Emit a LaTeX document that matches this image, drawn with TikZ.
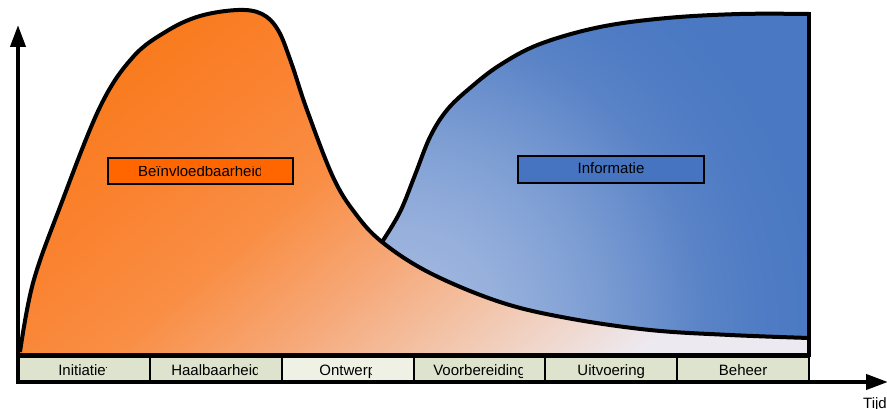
\documentclass[tikz,border=0pt]{standalone}
\usepackage{fontspec}
\setmainfont{Liberation Sans}
\usetikzlibrary{arrows.meta}

\definecolor{orangeA}{HTML}{F97B1E}
\definecolor{orangeB}{HTML}{FA8230}
\definecolor{orangeC}{HTML}{F98E44}
\definecolor{orangeD}{HTML}{F6A878}
\definecolor{orangeE}{HTML}{F2C8B0}
\definecolor{orangeF}{HTML}{EDE9F0}
\definecolor{blueR0}{HTML}{A6BCE1}
\definecolor{blueR1}{HTML}{97B0DC}
\definecolor{blueR2}{HTML}{8DA9D9}
\definecolor{blueR3}{HTML}{7C9DD3}
\definecolor{blueR4}{HTML}{5B84C7}
\definecolor{blueR5}{HTML}{4F7CC4}
\definecolor{blueR6}{HTML}{4A78C2}
\definecolor{phase}{HTML}{DDE3CC}
\definecolor{phaseHi}{HTML}{EEF1E4}
\definecolor{tagOrange}{HTML}{FF6600}
\definecolor{tagBlue}{HTML}{4674C1}

% fade, pale end at 0bp, strong end at 100bp
\pgfdeclareverticalshading{orangefade}{100bp}{color(0bp)=(orangeF); color(25bp)=(orangeF);
  color(36bp)=(orangeE); color(46bp)=(orangeD); color(56bp)=(orangeC);
  color(66bp)=(orangeB); color(75bp)=(orangeA); color(100bp)=(orangeA)}
% glow spreading from the lower left of the information area (25bp = outer radius)
\pgfdeclareradialshading{inforad}{\pgfpoint{0bp}{0bp}}{color(0bp)=(blueR0);
  color(6bp)=(blueR1); color(8.3bp)=(blueR2); color(11.9bp)=(blueR3);
  color(17.9bp)=(blueR4); color(21.4bp)=(blueR5); color(25bp)=(blueR6);
  color(50bp)=(blueR6)}

\newcommand{\lblfont}{\fontsize{15}{18}\selectfont}
% invisible box that is narrower than its text by #1
\newcommand{\trimmed}[2]{\makebox[\dimexpr\width-#1\relax][l]{\phantom{#2}}}

% outline of the information area
\newcommand{\infoarea}{plot[smooth, tension=0.6] coordinates {(382,242) (400,212) (415,175)
    (430,137) (447,110) (470,88) (500,65) (540,44) (600,27) (667,18) (740,14) (809,14)}
  -- (809,338)
  -- plot[smooth, tension=0.6] coordinates {(809,338) (730,335) (650,330) (567,318)
    (500,302) (430,273) (382,242)} -- cycle}

\begin{document}
\begin{tikzpicture}[x=1pt,y=-1pt,
  curve/.style={line width=4pt, line join=round},
  frame/.style={line width=4pt},
  phasebox/.style={draw, line width=2pt, fill=phase, minimum width=131.8pt,
    minimum height=25pt, inner sep=0pt, outer sep=0pt},
  tag/.style={draw, line width=1.5pt, inner sep=0pt, outer sep=0pt},
  lbl/.style={inner sep=0pt, font=\lblfont, anchor=base},
  cut/.style={lbl, path picture={\node[anchor=west, inner sep=0pt, font=\lblfont]
    at (path picture bounding box.west) {#1};}},
  axis/.style={line width=4pt, -{Triangle[length=22pt,width=15pt]}}
]
\useasboundingbox (0,0) rectangle (887,409);

% influence curve (orange area)
\shade[shading=orangefade, shading angle=40]
  (20,355) -- plot[smooth, tension=0.6] coordinates {(20,352) (33,283) (60,207) (100,107)
    (133,57) (167,31) (200,16) (238,10) (262,14) (278,30) (291,62) (307,110) (333,177)
    (355,213) (382,242) (430,273) (500,302) (567,318) (650,330) (730,335) (809,338)}
  -- (809,355) -- cycle;

% information curve (blue area)
\fill[blueR6] \infoarea;
\begin{scope}
  \clip \infoarea;
  \shade[shading=inforad] (400,330) circle[radius=420pt];
\end{scope}

% outlines
\draw[curve] plot[smooth, tension=0.6] coordinates {(20,352) (33,283) (60,207) (100,107)
    (133,57) (167,31) (200,16) (238,10) (262,14) (278,30) (291,62) (307,110) (333,177)
    (355,213) (382,242) (430,273) (500,302) (567,318) (650,330) (730,335) (809,338)};
\draw[curve] plot[smooth, tension=0.6] coordinates {(382,242) (400,212) (415,175) (430,137)
    (447,110) (470,88) (500,65) (540,44) (600,27) (667,18) (740,14) (809,14)};
\coordinate (frTop) at (809,12);
\coordinate (frCorner) at (809,354.5);
\coordinate (frLeft) at (16,354.5);
\draw[frame] (frTop) -- (frCorner) -- (frLeft);

% phase strip
\node[phasebox] (p1) at (83.9,369.5) {};
\node[phasebox] (p2) at (215.7,369.5) {};
\node[phasebox, fill=phaseHi] (p3) at (347.6,369.5) {};
\node[phasebox] (p4) at (479.4,369.5) {};
\node[phasebox] (p5) at (611.2,369.5) {};
\node[phasebox] (p6) at (743.1,369.5) {};

\node[cut={Initiatief}, xshift=-1.5pt] (t1) at (83.9,375) {\trimmed{3pt}{Initiatief}};
\node[cut={Haalbaarheid}, xshift=-1.5pt] (t2) at (215.7,375) {\trimmed{3pt}{Haalbaarheid}};
\node[cut={Ontwerp}, xshift=-2pt] (t3) at (347.6,375) {\trimmed{4pt}{Ontwerp}};
\node[cut={Voorbereiding}, xshift=-1.5pt] (t4) at (479.4,375) {\trimmed{3pt}{Voorbereiding}};
\node[lbl] (t5) at (611.2,375) {Uitvoering};
\node[lbl] (t6) at (743.1,375) {Beheer};

% axes
\coordinate (origin) at (18,384);
\coordinate (yEnd) at (18,25);
\coordinate (xStart) at (16,382);
\coordinate (xEnd) at (888,382);
\draw[axis] (origin) -- (yEnd);
\draw[axis] (xStart) -- (xEnd);
\node[lbl, anchor=base west] (tijd) at (863,408) {Tijd};

% area labels
\node[tag, fill=tagOrange, minimum width=185pt, minimum height=26pt] (infl) at (200.5,171) {};
\node[cut={Beïnvloedbaarheid}, xshift=-1.5pt] (inflT) at (200.5,177) {\trimmed{3pt}{Beïnvloedbaarheid}};
\node[tag, fill=tagBlue, minimum width=186pt, minimum height=27pt] (info) at (611,169.5) {};
\node[lbl] (infoT) at (611,174) {Informatie};
\end{tikzpicture}
\end{document}
